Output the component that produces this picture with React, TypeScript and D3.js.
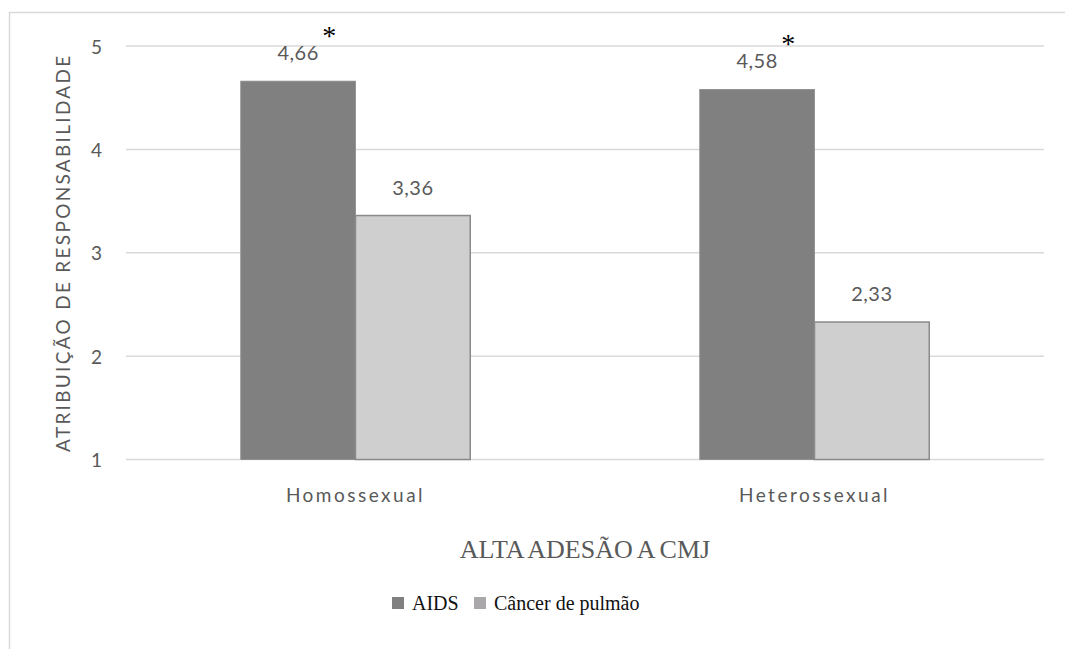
import { useEffect, useRef } from 'react';
import * as d3 from 'd3';

// chart data
const categories = ['Homossexual', 'Heterossexual'];
const seriesNames = ['AIDS', 'Câncer de pulmão'];
const aidsValues = [4.66, 4.58];
const cancerValues = [3.36, 2.33];
const valueLabels = [['4,66', '4,58'], ['3,36', '2,33']];
const starred = [[true, true], [false, false]];
const yTicks = [1, 2, 3, 4, 5];

const W = 1065;
const H = 649;

export default function App() {
  const svgRef = useRef<SVGSVGElement>(null);

  useEffect(() => {
    if (!svgRef.current) return;
    const svg = d3.select(svgRef.current);
    svg.selectAll('*').remove();

    const sans = 'Lato, "Open Sans", sans-serif';
    const serif = '"Liberation Serif", "DejaVu Serif", serif';
    const textGray = '#595959';
    const fills = ['#808080', '#d0cfd0'];
    const strokes = ['#8a8a8a', '#8a8a8a'];

    // outer chart frame (runs off the right and bottom)
    svg
      .append('rect')
      .attr('x', 9.5)
      .attr('y', 12.5)
      .attr('width', W + 20)
      .attr('height', H + 20)
      .attr('fill', '#fff')
      .attr('stroke', '#d9d9d9')
      .attr('stroke-width', 1.5);

    const plot = { left: 126, right: 1044, top: 46, bottom: 459.5 };

    const x = d3
      .scaleBand()
      .domain(categories)
      .range([plot.left, plot.right])
      .paddingInner(0.5)
      .paddingOuter(0.25);

    const xSeries = d3
      .scaleBand()
      .domain(seriesNames)
      .range([0, x.bandwidth()]);

    const y = d3.scaleLinear().domain([1, 5]).range([plot.bottom, plot.top]);

    // gridlines
    svg
      .append('g')
      .selectAll('line')
      .data(yTicks)
      .enter()
      .append('line')
      .attr('x1', plot.left)
      .attr('x2', plot.right)
      .attr('y1', (d) => y(d))
      .attr('y2', (d) => y(d))
      .attr('stroke', '#d9d9d9')
      .attr('stroke-width', 1.5);

    // y tick labels
    svg
      .append('g')
      .selectAll('text')
      .data(yTicks)
      .enter()
      .append('text')
      .attr('x', 102)
      .attr('y', (d) => y(d))
      .attr('text-anchor', 'end')
      .attr('dominant-baseline', 'central')
      .style('font-family', sans)
      .style('font-size', '19px')
      .style('fill', textGray)
      .text((d) => d);

    // bars
    const series = [aidsValues, cancerValues];
    series.forEach((vals, si) => {
      const g = svg.append('g');
      g.selectAll('rect')
        .data(vals)
        .enter()
        .append('rect')
        .attr('x', (_d, i) => (x(categories[i]) ?? 0) + (xSeries(seriesNames[si]) ?? 0))
        .attr('y', (d) => y(d))
        .attr('width', xSeries.bandwidth())
        .attr('height', (d) => y(1) - y(d))
        .attr('fill', fills[si])
        .attr('stroke', strokes[si])
        .attr('stroke-width', si === 1 ? 1.5 : 0.8);

      // value labels
      g.selectAll('text.val')
        .data(vals)
        .enter()
        .append('text')
        .attr('class', 'val')
        .attr('x', (_d, i) => (x(categories[i]) ?? 0) + (xSeries(seriesNames[si]) ?? 0) + xSeries.bandwidth() / 2)
        .attr('y', (d) => y(d) - 29)
        .attr('text-anchor', 'middle')
        .attr('dominant-baseline', 'central')
        .style('font-family', sans)
        .style('font-size', '20px')
        .style('letter-spacing', '0.5px')
        .style('fill', textGray)
        .text((_d, i) => valueLabels[si][i]);

      // significance asterisks
      g.selectAll('text.star')
        .data(vals.filter((_d, i) => starred[si][i]))
        .enter()
        .append('text')
        .attr('class', 'star')
        .attr('x', (_d, i) => (x(categories[i]) ?? 0) + (xSeries(seriesNames[si]) ?? 0) + xSeries.bandwidth() / 2 + 31)
        .attr('y', (d) => y(d) - 36)
        .attr('text-anchor', 'middle')
        .style('font-family', serif)
        .style('font-size', '28px')
        .style('fill', '#000')
        .text('*');
    });

    // category labels
    svg
      .append('g')
      .selectAll('text')
      .data(categories)
      .enter()
      .append('text')
      .attr('x', (d) => (x(d) ?? 0) + x.bandwidth() / 2)
      .attr('y', 494)
      .attr('text-anchor', 'middle')
      .attr('dominant-baseline', 'central')
      .style('font-family', sans)
      .style('font-size', '19px')
      .style('letter-spacing', '2.5px')
      .style('fill', textGray)
      .text((d) => d);

    // x axis title
    svg
      .append('text')
      .attr('x', (plot.left + plot.right) / 2)
      .attr('y', 549)
      .attr('text-anchor', 'middle')
      .attr('dominant-baseline', 'central')
      .style('font-family', serif)
      .style('font-size', '26px')
      .style('word-spacing', '-1px')
      .style('fill', textGray)
      .text('ALTA ADESÃO A CMJ');

    // y axis title
    svg
      .append('text')
      .attr('transform', `translate(62,${(plot.top + plot.bottom) / 2}) rotate(-90)`)
      .attr('text-anchor', 'middle')
      .attr('dominant-baseline', 'central')
      .style('font-family', sans)
      .style('font-size', '19px')
      .style('letter-spacing', '2.3px')
      .style('fill', textGray)
      .text('ATRIBUIÇÃO DE RESPONSABILIDADE');

    // legend
    const legendX = [392, 474];
    const legendColors = ['#808080', '#aaa8aa'];
    const legend = svg.append('g');
    seriesNames.forEach((name, i) => {
      legend
        .append('rect')
        .attr('x', legendX[i])
        .attr('y', 597)
        .attr('width', 12)
        .attr('height', 12)
        .attr('fill', legendColors[i]);
      legend
        .append('text')
        .attr('x', legendX[i] + 20)
        .attr('y', 603)
        .attr('dominant-baseline', 'central')
        .style('font-family', serif)
        .style('font-size', '20px')
        .style('fill', '#111')
        .text(name);
    });
  }, []);

  return (
    <svg
      ref={svgRef}
      width={W}
      height={H}
      style={{ position: 'absolute', left: 0, top: 0, background: '#fff' }}
    />
  );
}
